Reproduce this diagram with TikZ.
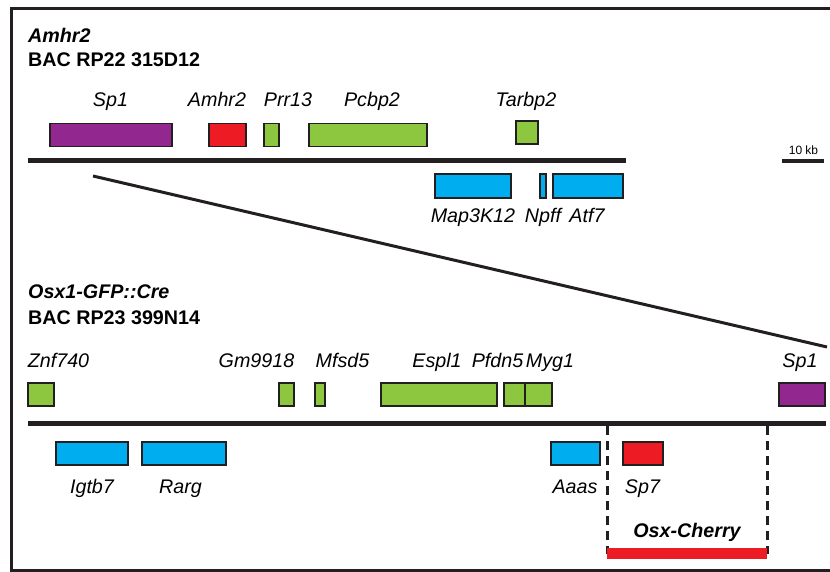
\documentclass[tikz,border=0pt]{standalone}
\usepackage{fontspec}
\setmainfont{Liberation Sans}
\definecolor{genpurple}{RGB}{146,39,143}
\definecolor{genred}{RGB}{237,28,36}
\definecolor{gengreen}{RGB}{141,198,63}
\definecolor{genblue}{RGB}{0,174,239}
\definecolor{genedge}{RGB}{35,31,32}
\tikzset{
  gene/.style={draw=genedge, line width=1.2pt, inner sep=0pt, minimum height=23pt},
  lbl/.style={anchor=base, inner sep=0pt, font=\fontsize{19.7}{23}\selectfont\itshape},
  ttl/.style={anchor=base west, inner sep=0pt, font=\fontsize{19.7}{23}\selectfont\bfseries},
  chrom/.style={line width=5pt, genedge}
}
\begin{document}
\begin{tikzpicture}[x=1pt, y=-1pt]
      \useasboundingbox (0,0) rectangle (830,572);
      \draw[line width=3pt, genedge] (830,9) -- (11,9) -- (11,570) -- (830,570);
      \path
        (28,43) node[ttl] (titleA){\itshape Amhr2}
        (28,67) node[ttl] (bacA){BAC RP22 315D12}
        (28,298) node[ttl] (titleB){\itshape Osx1-GFP::Cre}
        (28,324) node[ttl] (bacB){BAC RP23 399N14};
      \path
        (111,135) node[gene, fill=genpurple, minimum width=122pt] (sp1A){}
        (227.5,135) node[gene, fill=genred, minimum width=37pt] (amhr2){}
        (271.5,135) node[gene, fill=gengreen, minimum width=15pt] (prr13){}
        (368,135) node[gene, fill=gengreen, minimum width=118pt] (pcbp2){}
        (527,132.5) node[gene, fill=gengreen, minimum width=22pt] (tarbp2){}
        (473,186) node[gene, fill=genblue, minimum width=76pt, minimum height=24pt] (map3k12){}
        (543,186) node[gene, fill=genblue, minimum width=6pt, minimum height=24pt] (npff){}
        (588,186) node[gene, fill=genblue, minimum width=70pt, minimum height=24pt] (atf7){};
      \path
        (110.5,107) node[lbl] (sp1A-l){Sp1}
        (217,107) node[lbl] (amhr2-l){Amhr2}
        (288,107) node[lbl] (prr13-l){Prr13}
        (372,107) node[lbl] (pcbp2-l){Pcbp2}
        (526,107) node[lbl] (tarbp2-l){Tarbp2}
        (473,223) node[lbl] (map3k12-l){Map3K12}
        (543,223) node[lbl] (npff-l){Npff}
        (587,223) node[lbl] (atf7-l){Atf7};
      \path
        (41,394.5) node[gene, fill=gengreen, minimum width=26pt] (znf740){}
        (286.5,394.5) node[gene, fill=gengreen, minimum width=15pt] (gm9918){}
        (320,394.5) node[gene, fill=gengreen, minimum width=10pt] (mfsd5){}
        (439,394.5) node[gene, fill=gengreen, minimum width=116pt] (espl1){}
        (514.5,394.5) node[gene, fill=gengreen, minimum width=21pt] (pfdn5){}
        (538.5,394.5) node[gene, fill=gengreen, minimum width=27pt] (myg1){}
        (802,394.5) node[gene, fill=genpurple, minimum width=46pt] (sp1B){}
        (92,453.5) node[gene, fill=genblue, minimum width=72pt] (igtb7){}
        (184,453.5) node[gene, fill=genblue, minimum width=84pt] (rarg){}
        (575.5,453.5) node[gene, fill=genblue, minimum width=49pt] (aaas){}
        (643,453.5) node[gene, fill=genred, minimum width=40pt] (sp7){};
      \path
        (58.5,367) node[lbl] (znf740-l){Znf740}
        (256.5,367) node[lbl] (gm9918-l){Gm9918}
        (342.5,367) node[lbl] (mfsd5-l){Mfsd5}
        (437,367) node[lbl] (espl1-l){Espl1}
        (497.5,367) node[lbl] (pfdn5-l){Pfdn5}
        (550,367) node[lbl] (myg1-l){Myg1}
        (800,367) node[lbl] (sp1B-l){Sp1}
        (92,493) node[lbl] (igtb7-l){Igtb7}
        (180.5,493) node[lbl] (rarg-l){Rarg}
        (575,493) node[lbl] (aaas-l){Aaas}
        (642.5,493) node[lbl] (sp7-l){Sp7}
        (687,537) node[lbl, font=\fontsize{19.7}{23}\selectfont\bfseries\itshape] (cherry-l){Osx-Cherry}
        (803.5,155) node[anchor=base, inner sep=0pt, font=\fontsize{12}{14}\selectfont] (scale-l){10 kb};
      \coordinate (bacA-w) at (28,161);
      \coordinate (bacA-e) at (626,161);
      \coordinate (bacB-w) at (28,423);
      \coordinate (bacB-e) at (826,423);
      \coordinate (scale-w) at (782,161);
      \coordinate (scale-e) at (824,161);
      \coordinate (zoom-a) at (93,176);
      \coordinate (zoom-b) at (827,347);
      \coordinate (cherry-w) at (607,553.5);
      \coordinate (cherry-e) at (767,553.5);
      \coordinate (cut-w) at (607,426);
      \coordinate (cut-e) at (767,426);
      \begin{scope}[-]
        \draw[chrom] (bacA-w) to (bacA-e);
        \draw[chrom] (bacB-w) to (bacB-e);
        \draw[line width=4pt, genedge] (scale-w) to (scale-e);
        \draw[line width=3pt, genedge] (zoom-a) to (zoom-b);
        \draw[line width=3pt, genedge, dash pattern=on 9pt off 6pt] (cut-w) to (cherry-w);
        \draw[line width=3pt, genedge, dash pattern=on 9pt off 6pt] (cut-e) to (cherry-e);
        \draw[line width=11pt, genred] (cherry-w) to (cherry-e);
      \end{scope}
    \end{tikzpicture}
\end{document}
